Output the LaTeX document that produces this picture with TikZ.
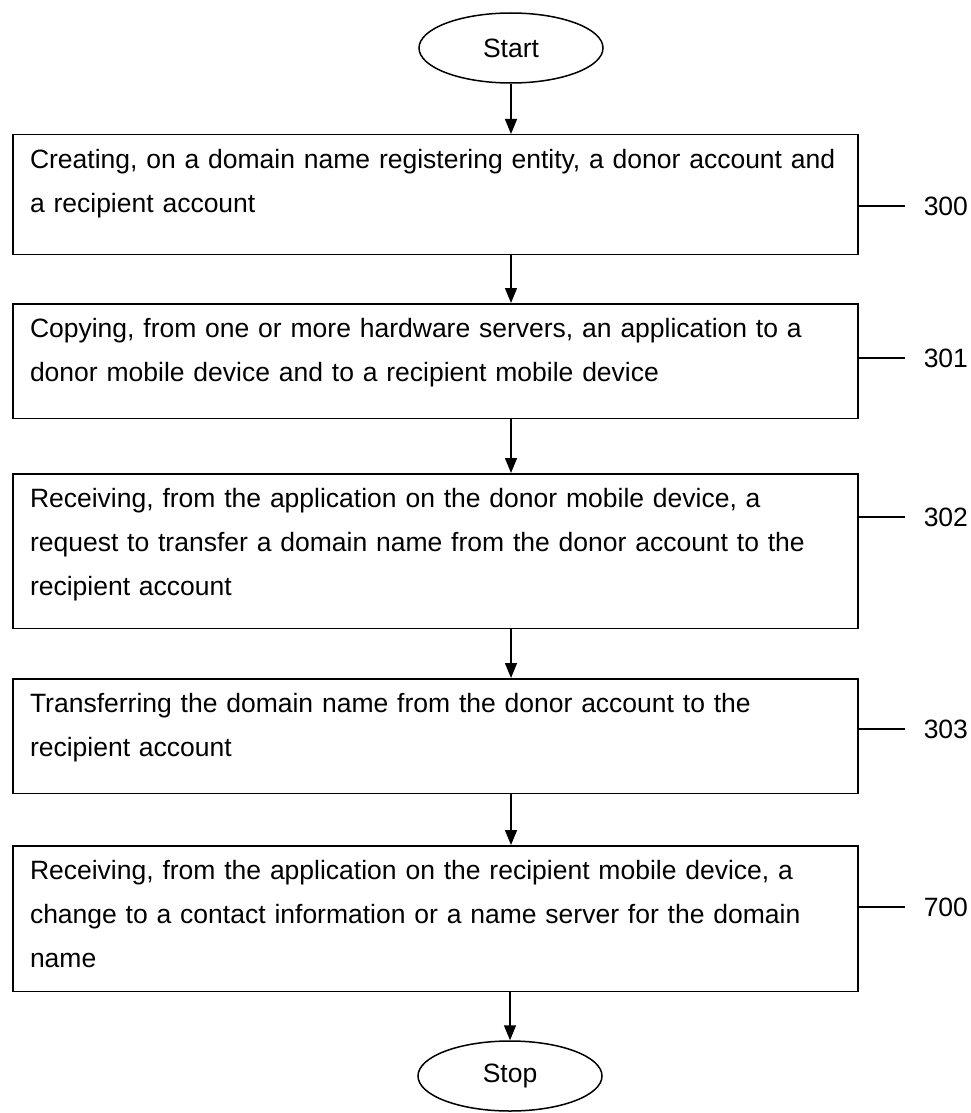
\documentclass[tikz,border=0pt]{standalone}
\usepackage{fontspec}
\setmainfont{Liberation Sans}
\usetikzlibrary{shapes.geometric,arrows.meta}

\begin{document}
\begin{tikzpicture}[x=1pt,y=-1pt,
  line width=1.5pt,
  font=\fontsize{26.5}{44}\selectfont,
  terminal/.style={draw,ellipse,minimum width=184pt,minimum height=70pt,inner sep=0pt},
  stepbox/.style={draw,anchor=north,text width=811pt,inner xsep=17pt,inner ysep=15pt,align=left},
  reflabel/.style={anchor=west,inner xsep=18pt,inner ysep=0pt},
  flow/.style={-{Triangle[length=15pt,width=12pt]}}]
  \useasboundingbox (0,0) rectangle (971,1113);
  \node[terminal] (start) at (511,48) {Start};
  \node[stepbox] (s300) at (435.5,134)
    {Creating, on a domain name registering entity, a donor account and\\a recipient account\rule[-26.5pt]{0pt}{0pt}};
  \node[stepbox] (s301) at (435.5,303)
    {Copying, from one or more hardware servers, an application to a\\donor mobile device and to a recipient mobile device\rule[-21.5pt]{0pt}{0pt}};
  \node[stepbox] (s302) at (435.5,473)
    {Receiving, from the application on the donor mobile device, a\\request to transfer a domain name from the donor account to the\\recipient account\rule[-17.5pt]{0pt}{0pt}};
  \node[stepbox] (s303) at (435.5,678)
    {Transferring the domain name from the donor account to the\\recipient account\rule[-21.5pt]{0pt}{0pt}};
  \node[stepbox] (s700) at (435.5,845)
    {Receiving, from the application on the recipient mobile device, a\\change to a contact information or a name server for the domain\\name\rule[-8.5pt]{0pt}{0pt}};
  \node[terminal] (stop) at (510,1076) {Stop};
  \node[reflabel] (l300) at (905,206) {300};
  \node[reflabel] (l301) at (905,358) {301};
  \node[reflabel] (l302) at (905,517) {302};
  \node[reflabel] (l303) at (905,729) {303};
  \node[reflabel] (l700) at (905,907) {700};
  \draw[flow] (start) -- (start |- s300.north);
  \draw[flow] (s300.south -| start) -- (s301.north -| start);
  \draw[flow] (s301.south -| start) -- (s302.north -| start);
  \draw[flow] (s302.south -| start) -- (s303.north -| start);
  \draw[flow] (s303.south -| start) -- (s700.north -| start);
  \draw[flow] (s700.south -| stop) -- (stop);
  \foreach \n in {300,301,302,303,700}
    \draw (l\n.west) -- (l\n.west -| s\n.east);
\end{tikzpicture}
\end{document}
